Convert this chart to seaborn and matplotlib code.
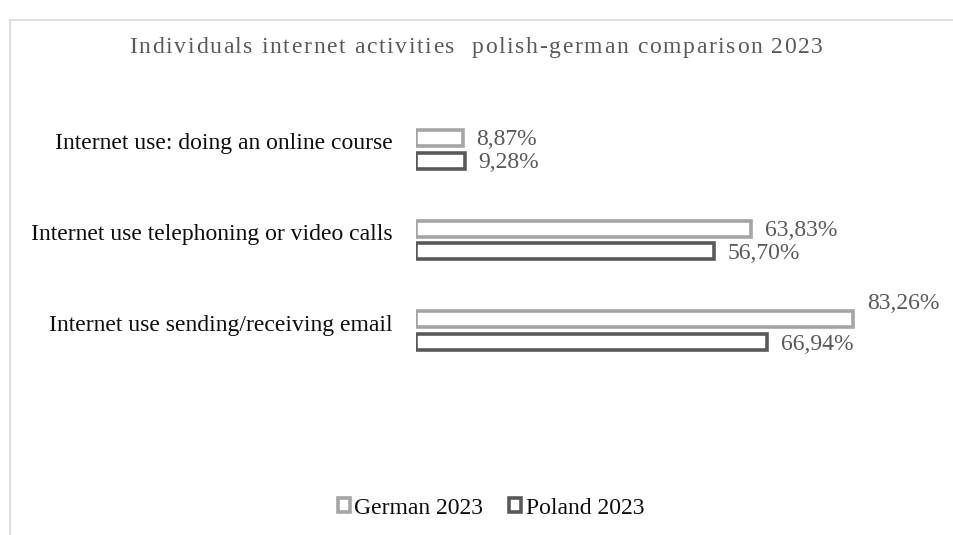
import matplotlib
matplotlib.use("Agg")
import matplotlib.pyplot as plt
from matplotlib.patches import Patch
from matplotlib.lines import Line2D
import seaborn as sns
import pandas as pd

# ---- data -------------------------------------------------------------
categories = [
    "Internet use: doing an online course",
    "Internet use telephoning or video calls",
    "Internet use sending/receiving email",
]
series = ["German 2023", "Poland 2023"]
german_2023 = [8.87, 63.83, 83.26]
poland_2023 = [9.28, 56.70, 66.94]
title = "Individuals internet activities  polish-german comparison 2023"

df = pd.DataFrame({
    "activity": categories * 2,
    "series": [series[0]] * len(categories) + [series[1]] * len(categories),
    "share": german_2023 + poland_2023,
})

# ---- style ------------------------------------------------------------
sns.set_theme(style="white")
plt.rcParams["font.family"] = ["Liberation Serif", "DejaVu Serif"]

W, H = 954, 535
edge_colors = ["#A5A5A5", "#595959"]
label_color = "#595959"
text_size = 17

fig = plt.figure(figsize=(W / 100, H / 100), dpi=100)
fig.patch.set_facecolor("white")

# plot area in pixel terms
left, right, top, bottom = 416, 941, 104, 376
ax = fig.add_axes([left / W, 1 - bottom / H, (right - left) / W, (bottom - top) / H])

sns.barplot(
    data=df, y="activity", x="share", hue="series",
    order=categories, hue_order=series, orient="h",
    palette=edge_colors, fill=False, linewidth=2.6,
    width=0.505, gap=0.30, errorbar=None, legend=False, ax=ax,
)

ax.set_xlim(0, 100)
ax.set_ylim(len(categories) - 0.5, -0.5)
ax.set_xticks([])
ax.set_xlabel("")
ax.set_ylabel("")
for s in ax.spines.values():
    s.set_visible(False)
ax.tick_params(axis="y", length=0, pad=16.5, labelsize=text_size, labelcolor="#0d0d0d")
for lbl in ax.get_yticklabels():
    lbl.set_verticalalignment("baseline")

# value labels at the end of each bar
largest = max(german_2023 + poland_2023)
for container in ax.containers:
    for bar in container:
        v = bar.get_width()
        txt = f"{v:.2f}".replace(".", ",") + "%"
        dy = 11.5 if v == largest else -1.5
        ax.annotate(
            txt,
            xy=(bar.get_x() + v, bar.get_y() + bar.get_height() / 2),
            xytext=(10, dy), textcoords="offset points",
            ha="left", va="center", fontsize=text_size, color=label_color,
            annotation_clip=False,
        )

# ---- title with letter spacing ----------------------------------------
title_size = 17
title_width_px = 694
renderer = fig.canvas.get_renderer()


def text_width(s):
    t = fig.text(0, 0, s, fontsize=title_size)
    w = t.get_window_extent(renderer).width
    t.remove()
    return w


# advance of each character, measured between two fixed glyphs
base = text_width("HH")
advances = [text_width("H" + ch + "H") - base for ch in title]
tracking_px = (title_width_px - sum(advances)) / (len(title) - 1)
x = 476 - title_width_px / 2
baseline_y = 1 - 53.3 / H
for ch, adv in zip(title, advances):
    if ch != " ":
        fig.text(x / W, baseline_y, ch, fontsize=title_size, color=label_color,
                 ha="left", va="baseline")
    x += adv + tracking_px

# ---- legend -----------------------------------------------------------
handles = [Patch(facecolor="white", edgecolor=c, linewidth=2.6) for c in edge_colors]
fig.legend(
    handles, series, loc="center", bbox_to_anchor=(491 / W, 1 - 508 / H),
    ncol=2, frameon=False, fontsize=text_size,
    handlelength=0.5, handleheight=0.5, handletextpad=0.2, columnspacing=1.1,
    borderpad=0, labelcolor="#0d0d0d",
)

# ---- chart area border (top and left edges) ---------------------------
border = "#D9D9D9"
fig.add_artist(Line2D([10 / W, 10 / W], [0, 1 - 20 / H], transform=fig.transFigure,
                      color=border, linewidth=1.2))
fig.add_artist(Line2D([10 / W, 1], [1 - 20 / H, 1 - 20 / H], transform=fig.transFigure,
                      color=border, linewidth=1.2))

fig.savefig("out.png", dpi=100, facecolor="white")
